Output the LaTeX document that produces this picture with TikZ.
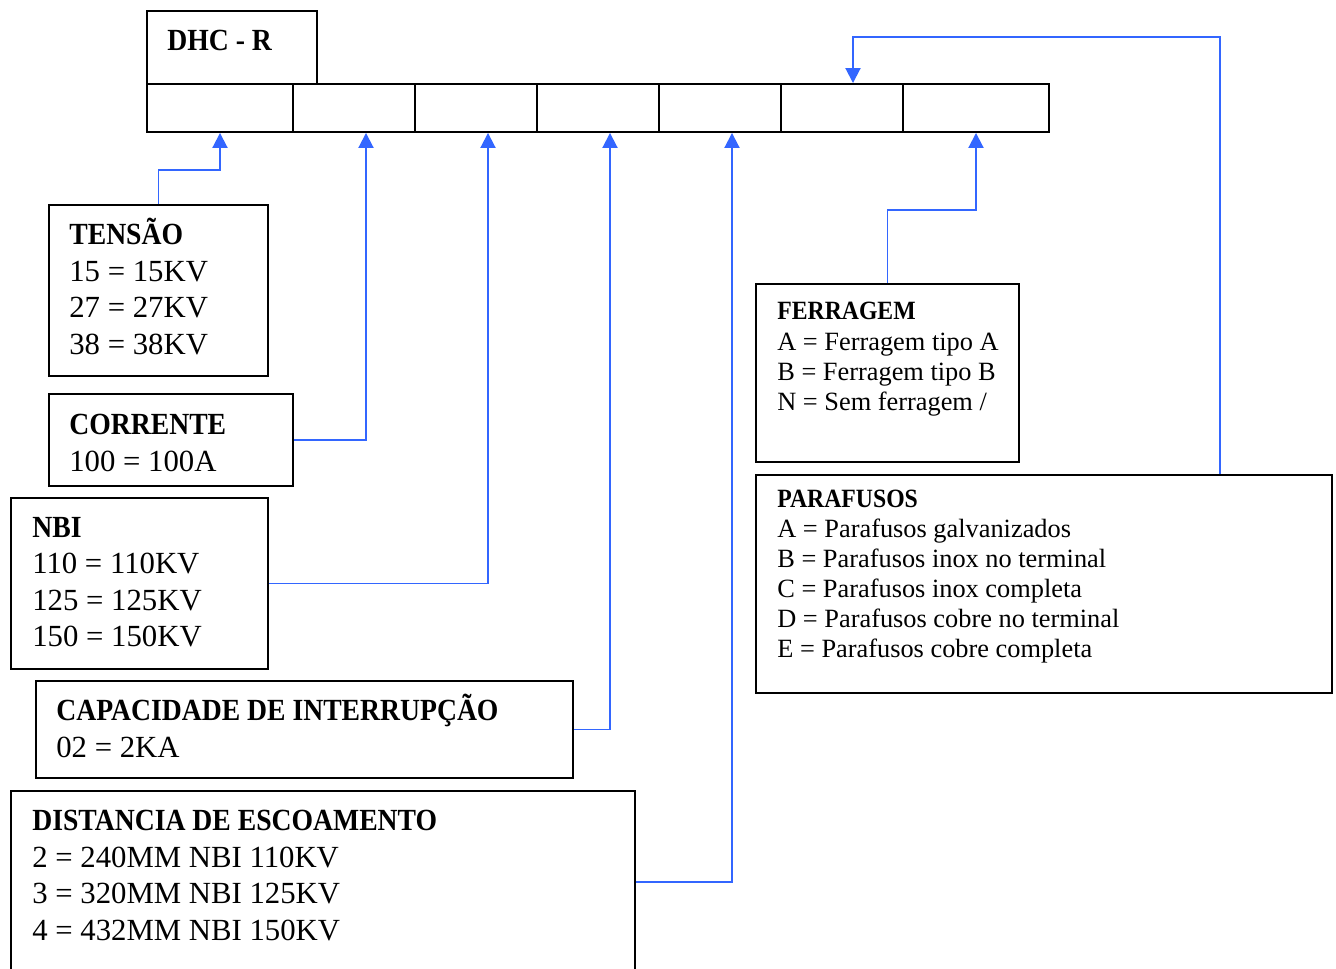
\documentclass[tikz,border=0pt]{standalone}
\usepackage{fontspec}
\setmainfont{Liberation Serif}[BoldFeatures={FakeStretch=0.9}]
\usepackage{tikz}
\usetikzlibrary{positioning,arrows.meta,calc}
\definecolor{linkcolor}{RGB}{51, 102, 255}

\newcommand{\bigtxt}{\fontsize{17.5}{20.75}\selectfont}
\newcommand{\smalltxt}{\fontsize{15}{17.1}\selectfont}

\begin{document}
\begin{tikzpicture}[
    x=0.02cm, y=-0.02cm,
    box/.style={rectangle, draw, line width=1.1pt, inner sep=0pt},
    cell/.style={box, minimum width=2.44cm, minimum height=0.96cm},
    widecell/.style={cell, minimum width=2.92cm},
    txt/.style={anchor=base west, inner sep=0pt, text width=11cm, align=flush left, font=\bigtxt},
    smalltxt/.style={txt, font=\smalltxt},
    link/.style={draw=linkcolor, line width=1.1pt, -{Triangle[width=0.3cm,length=0.3cm]}}
]
\useasboundingbox (0,0) rectangle (1336,969);

% code header and cells
\node[box, minimum width=3.4cm, minimum height=1.46cm] (dhc) at (232,47.5) {};
\node[txt, text width=3cm] (dhc-txt) at (167,51) {\textbf{DHC - R}};
\node[widecell] (c1) at (220,108) {};
\node[cell] (c2) at (354,108) {};
\node[cell] (c3) at (476,108) {};
\node[cell] (c4) at (598,108) {};
\node[cell] (c5) at (720,108) {};
\node[cell] (c6) at (842,108) {};
\node[widecell] (c7) at (976,108) {};

% option boxes, left side
\node[box, minimum width=4.38cm, minimum height=3.42cm] (tensao) at (158.5,290.5) {};
\node[txt] (tensao-txt) at (69,245) {\textbf{TENSÃO}\\15 = 15KV\\27 = 27KV\\38 = 38KV};

\node[box, minimum width=4.88cm, minimum height=1.84cm] (corrente) at (171,440) {};
\node[txt] (corrente-txt) at (69,435) {\textbf{CORRENTE}\\100 = 100A};

\node[box, minimum width=5.14cm, minimum height=3.42cm] (nbi) at (139.5,583.5) {};
\node[txt] (nbi-txt) at (32,537.5) {\textbf{NBI}\\110 = 110KV\\125 = 125KV\\150 = 150KV};

\node[box, minimum width=10.74cm, minimum height=1.94cm] (capacidade) at (304.5,729.5) {};
\node[txt] (capacidade-txt) at (56,720.7) {\textbf{CAPACIDADE DE INTERRUPÇÃO}\\02 = 2KA};

\node[box, minimum width=12.48cm, minimum height=3.64cm] (distancia) at (323,882) {};
\node[txt] (distancia-txt) at (32,830.7) {\textbf{DISTANCIA DE ESCOAMENTO}\\2 = 240MM NBI 110KV\\3 = 320MM NBI 125KV\\4 = 432MM NBI 150KV};

% option boxes, right side
\node[box, minimum width=5.26cm, minimum height=3.56cm] (ferragem) at (887.5,373) {};
\node[smalltxt] (ferragem-txt) at (777,320) {\textbf{FERRAGEM}\\A = Ferragem tipo A\\B = Ferragem tipo B\\N = Sem ferragem /};

\node[box, minimum width=11.52cm, minimum height=4.36cm] (parafusos) at (1044,584) {};
\node[smalltxt] (parafusos-txt) at (777,507.5) {\textbf{PARAFUSOS}\\A = Parafusos galvanizados\\B = Parafusos inox no terminal\\C = Parafusos inox completa\\D = Parafusos cobre no terminal\\E = Parafusos cobre completa};
\coordinate (parafusos-top) at ($(parafusos.north west)+(465,0)$);

% connectors
\draw[link] (tensao.north) |- ($(c1.south)+(0,37)$) -- (c1.south);
\draw[link] (corrente.east) -| ($(c2.south)+(12,0)$);
\draw[link] (nbi.east) -| ($(c3.south)+(12,0)$);
\draw[link] (capacidade.east) -| ($(c4.south)+(12,0)$);
\draw[link] (distancia.east) -| ($(c5.south)+(12,0)$);
\draw[link] (ferragem.north) |- ($(c7.south)+(0,77)$) -- (c7.south);
\draw[link] (parafusos-top) |- ($(c6.north)+(11,-46)$) -- ($(c6.north)+(11,0)$);
\end{tikzpicture}
\end{document}
